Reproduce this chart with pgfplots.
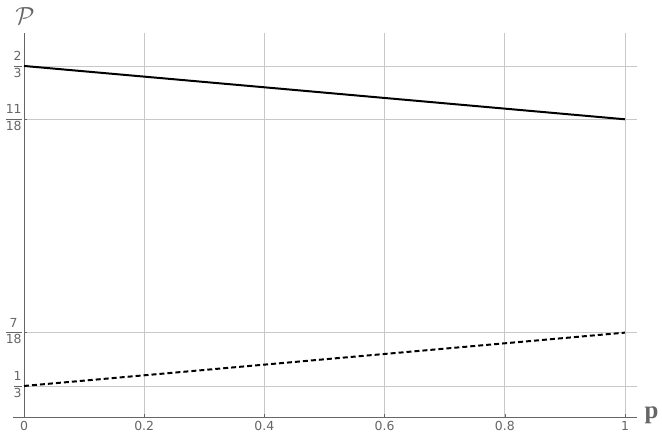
\documentclass[border=0pt]{standalone}
\usepackage{pgfplots}
\pgfplotsset{compat=1.18}
\usepackage{fontspec}
\setmainfont{DejaVu Sans}
\newfontfamily\lserif{Liberation Serif}
\definecolor{axisgray}{HTML}{666666}
\definecolor{gridgray}{HTML}{C8C8C8}
\newcommand\fr[2]{$\displaystyle\frac{\mbox{\strut#1}}{\mbox{\strut#2}}$}
\begin{document}
\begin{tikzpicture}
% page frame as in the reference (axis box at 0,0 .. 613bp,384bp)
\useasboundingbox (-24bp,-23bp) rectangle (638bp,417bp);
\begin{axis}[
    at={(0,0)}, anchor=south west,
    scale only axis,
    width=613bp, height=384bp,
    xmin=0, xmax=1.02,
    ymin=0.301, ymax=0.701,
    axis x line=bottom, axis y line=left,
    axis line style={axisgray, -},
    xtick={0,0.2,0.4,0.6,0.8,1},
    xticklabels={0,0.2,0.4,0.6,0.8,1},
    ytick={0.333333,0.388889,0.611111,0.666667},
    yticklabels={\fr{1}{3},\fr{7}{18},\fr{11}{18},\fr{2}{3}},
    tick label style={font=\fontsize{12.5}{14}\selectfont, text=axisgray},
    xtick style={axisgray, thin}, ytick style={axisgray, thin},
    major tick length=3bp,
    tick align=inside,
    grid=major,
    major grid style={gridgray, line width=0.7pt},
    xticklabel style={yshift=-1bp},
    yticklabel style={inner sep=1bp},
    clip=false,
]
\addplot[black, line width=2pt] coordinates {(0,0.666667) (1,0.611111)};
\addplot[black, line width=2pt, dash pattern=on 5bp off 3bp] coordinates {(0,0.333333) (1,0.388889)};
\draw[axisgray] (rel axis cs:0,0) -- ([xshift=-11bp]rel axis cs:0,0);
\node[anchor=west, text=axisgray, font=\lserif\bfseries\fontsize{25}{27}\selectfont] at ([xshift=4bp,yshift=2bp]rel axis cs:1,0) {p};
\node[anchor=south, text=axisgray, font=\fontsize{24}{26}\selectfont, inner sep=2bp] at ([xshift=1bp,yshift=6bp]rel axis cs:0,1) {$\mathcal{P}$};
\end{axis}
\end{tikzpicture}
\end{document}
